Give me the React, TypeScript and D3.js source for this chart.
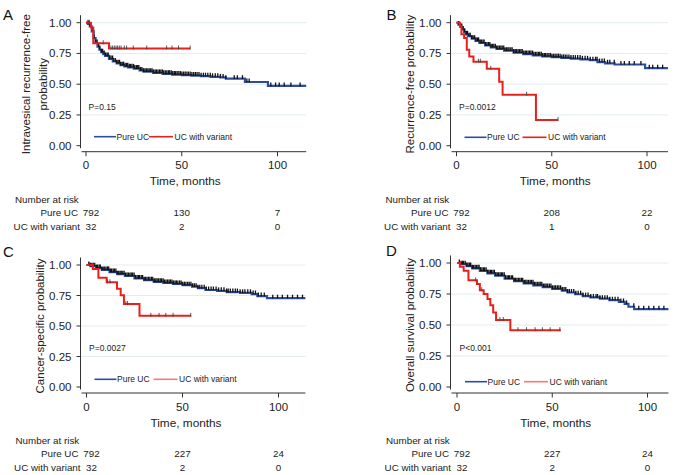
import React, { useEffect } from 'react';
import * as d3 from 'd3';

type Pt = [number, number];

// ---------- shared labels ----------
const timeTicks = [0, 50, 100];
const probTicks = [0, 0.25, 0.5, 0.75, 1];
const groupNames = ['Pure UC', 'UC with variant'];
const xTitle = 'Time, months';
const riskTitle = 'Number at risk';

// ---------- Panel A: intravesical recurrence-free ----------
const pureA: Pt[] = [[0,1],[1,0.99],[2,0.97],[3,0.93],[4,0.875],[5,0.835],[6,0.805],[7,0.78],[8,0.76],[9,0.745],[10,0.73],[12,0.705],[14,0.685],[16,0.67],[18,0.655],[20,0.645],[22,0.637],[25,0.627],[28,0.612],[30,0.602],[35,0.592],[40,0.584],[45,0.578],[50,0.574],[55,0.57],[60,0.565],[65,0.56],[70,0.555],[73,0.545],[83,0.518],[95,0.486]];
const pureEndA = 115;
const variantA: Pt[] = [[0,1],[2.6,0.96],[3.8,0.833],[12,0.79]];
const variantEndA = 54.5;
const variantCensorA = [1.0,1.8,9,13,13.9,14.8,15.7,16.5,17.4,18.3,20,21.2,24.7,31.7,42.1,44.9,48.3,54.4];
const pureTailCensorA = [77.4,79.0,81.7,84.0,85.2,96.5,99.0,100.9,103.5,107.0,111.8];
const riskPureA = [792, 130, 7];
const riskVariantA = [32, 2, 0];

// ---------- Panel B: recurrence-free ----------
const pureB: Pt[] = [[0,1],[1,0.985],[2,0.965],[3,0.945],[4,0.925],[5,0.905],[6,0.89],[8,0.87],[10,0.852],[12,0.835],[15,0.815],[18,0.8],[21,0.786],[25,0.772],[30,0.757],[35,0.745],[40,0.735],[45,0.726],[50,0.72],[55,0.714],[60,0.708],[65,0.702],[70,0.695],[74,0.68],[78,0.67],[83,0.66],[99,0.63]];
const pureEndB = 111;
const variantB: Pt[] = [[0,1],[1.8,0.969],[2.6,0.906],[4,0.875],[5.4,0.78],[6.7,0.725],[8.9,0.683],[15.9,0.625],[22.4,0.52],[24.2,0.415],[41.7,0.208]];
const variantEndB = 53.3;
const variantCensorB = [11.5,12.5,18,36.8,53.3];
const pureTailCensorB = [73.8,75.1,76.4,77.6,79.3,80.5,82.8,86.3,88.1,90.7,93.3,96.8,101.2,103.0,105.6,108.2];
const riskPureB = [792, 208, 22];
const riskVariantB = [32, 1, 0];

// ---------- Panel C: cancer-specific ----------
const pureC: Pt[] = [[0,1],[2,0.99],[5,0.975],[8,0.96],[12,0.942],[16,0.925],[20,0.91],[25,0.89],[30,0.875],[35,0.862],[40,0.853],[45,0.845],[50,0.835],[55,0.822],[58,0.81],[62,0.795],[68,0.788],[73,0.778],[80,0.772],[86,0.762],[89,0.745],[94,0.728]];
const pureEndC = 114;
const variantC: Pt[] = [[0,1],[3.3,0.967],[6.2,0.896],[10.5,0.858],[15.9,0.806],[17.8,0.752],[19.5,0.68],[27.6,0.583]];
const variantEndC = 54.5;
const variantCensorC = [1.5,10.9,12.2,20.5,21.4,33.5,37.8,41.3,45.1,54.3];
const pureTailCensorC = [73.8,74.9,76.2,77.5,78.6,80.0,81.3,82.5,84.0,85.4,86.8,88.0,89.5,91.0,92.6,97.0,99.5,102.0,104.7,107.3,109.9,112.5];
const riskPureC = [792, 227, 24];
const riskVariantC = [32, 2, 0];

// ---------- Panel D: overall survival ----------
const pureD: Pt[] = [[0,1],[2,0.99],[5,0.975],[8,0.957],[12,0.937],[16,0.917],[20,0.897],[25,0.873],[30,0.853],[35,0.836],[40,0.82],[45,0.806],[50,0.792],[55,0.778],[58,0.762],[62,0.748],[66,0.733],[70,0.722],[75,0.712],[80,0.7],[85,0.686],[88,0.67],[90,0.647],[93,0.628]];
const pureEndD = 111;
const variantD: Pt[] = [[0,1],[1.5,0.969],[3.5,0.938],[6,0.86],[10.5,0.83],[12,0.78],[14,0.75],[16,0.71],[17.5,0.66],[19,0.6],[20.5,0.54],[28,0.458]];
const variantEndD = 54.5;
const variantCensorD = [9.8,13,22.5,24.3,32,36.5,41,44.8,48.9,54];
const pureTailCensorD = [73.8,75.0,76.3,77.6,78.9,80.2,81.6,83.0,84.5,86.0,87.4,89.0,92.8,95.4,98.0,100.7,103.3,106.0,108.6];
const riskPureD = [792, 227, 24];
const riskVariantD = [32, 2, 0];

// dense censoring (months) of the Pure UC cohort in the first ~6 years
const pureBandCensor = [1.2,2.1,2.8,3.5,4.3,5.1,5.8,6.6,7.2,8.0,8.7,9.5,10.2,11.0,11.6,12.4,13.1,13.9,14.5,15.3,16.0,16.8,17.5,18.1,18.9,19.6,20.4,21.1,21.8,22.6,23.3,24.0,24.8,25.5,26.3,27.0,27.6,28.5,29.2,30.0,30.8,31.5,32.3,33.0,33.8,34.5,35.3,36.1,36.8,37.6,38.4,39.1,39.9,40.6,41.4,42.2,43.0,43.7,44.5,45.3,46.1,46.8,47.6,48.5,49.3,50.1,51.0,51.8,52.7,53.5,54.4,55.3,56.2,57.1,58.0,59.0,60.1,61.3,62.4,63.6,64.9,66.1,67.5,68.8,70.2,71.6,73.0];

const titles = {
  A: ['Intravesical recurrence-free', 'probability'],
  B: ['Recurrence-free probability'],
  C: ['Cancer-specific probability'],
  D: ['Overall survival probability'],
};
const pValues = { A: 'P=0.15', B: 'P=0.0012', C: 'P=0.0027', D: 'P<0.001' };

const panels = [
  { id: 'A', pure: pureA, pureEnd: pureEndA, variant: variantA, variantEnd: variantEndA, vCens: variantCensorA, pTail: pureTailCensorA, riskP: riskPureA, riskV: riskVariantA,
    axisX: 80.5, x0: 86, x100: 277.5, y1: 22.7, y0: 145.7, legDy: -9, redDx: 63, lightLegend: false, labX: 3, labY: 19.5 },
  { id: 'B', pure: pureB, pureEnd: pureEndB, variant: variantB, variantEnd: variantEndB, vCens: variantCensorB, pTail: pureTailCensorB, riskP: riskPureB, riskV: riskVariantB,
    axisX: 450.5, x0: 456.5, x100: 647, y1: 22.7, y0: 145.7, legDy: -8.4, redDx: 66, lightLegend: false, labX: 386.5, labY: 20 },
  { id: 'C', pure: pureC, pureEnd: pureEndC, variant: variantC, variantEnd: variantEndC, vCens: variantCensorC, pTail: pureTailCensorC, riskP: riskPureC, riskV: riskVariantC,
    axisX: 80.5, x0: 86.5, x100: 278.5, y1: 265, y0: 387, legDy: -7.7, redDx: 67, lightLegend: true, labX: 3, labY: 256.5 },
  { id: 'D', pure: pureD, pureEnd: pureEndD, variant: variantD, variantEnd: variantEndD, vCens: variantCensorD, pTail: pureTailCensorD, riskP: riskPureD, riskV: riskVariantD,
    axisX: 450.5, x0: 457, x100: 647.5, y1: 263, y0: 387, legDy: -5.3, redDx: 67, lightLegend: true, labX: 386, labY: 256 },
];

const FONT = "'Liberation Sans', Arial, Helvetica, sans-serif";
const BLUE = '#2c4c9e';
const RED = '#e8201c';
const RED_LIGHT = '#f27a78';
const GRID = '#e2ecef';
const TXT = '#222';

const valueAt = (curve: Pt[], t: number) => {
  let v = curve[0][1];
  for (const [tt, s] of curve) {
    if (tt <= t) v = s; else break;
  }
  return v;
};

function Panel({ p }: { p: typeof panels[number] }) {
  const x = d3.scaleLinear().domain([0, 100]).range([p.x0, p.x100]);
  const y = d3.scaleLinear().domain([0, 1]).range([p.y0, p.y1]);
  const line = d3.line<Pt>().x(d => x(d[0])).y(d => y(d[1])).curve(d3.curveStepAfter);
  const pureFull: Pt[] = [...p.pure, [p.pureEnd, p.pure[p.pure.length - 1][1]]];
  const varFull: Pt[] = [...p.variant, [p.variantEnd, p.variant[p.variant.length - 1][1]]];
  const right = x(p.pureEnd);
  const pureCens = [...pureBandCensor, ...p.pTail];
  const t = titles[p.id as keyof typeof titles];
  const titleY = (p.y0 + p.y1) / 2;
  const legY = p.y0 + p.legDy;
  const colX = (i: number) => x(timeTicks[i]) + (i === 0 ? 5 : 0);
  return (
    <g>
      <text x={p.labX} y={p.labY} fontSize={15} fill="#111" fontFamily={FONT}>{p.id}</text>
      {/* grid */}
      {probTicks.filter(v => v > 0).map(v => (
        <line key={'g' + v} x1={p.axisX} x2={right} y1={y(v)} y2={y(v)} stroke={GRID} strokeWidth={1} />
      ))}
      {/* y axis */}
      <line x1={p.axisX} x2={p.axisX} y1={p.y1 - 7.5} y2={p.y0 + 2.5} stroke="#333" strokeWidth={1} />
      {probTicks.map(v => (
        <g key={'yt' + v}>
          <line x1={p.axisX - 4} x2={p.axisX} y1={y(v)} y2={y(v)} stroke="#333" strokeWidth={1} />
          <text x={p.axisX - 9} y={y(v) + 4} textAnchor="end" fontSize={11.5} fill={TXT} fontFamily={FONT}>{d3.format('.2f')(v)}</text>
        </g>
      ))}
      {/* y title */}
      {t.map((s, i) => {
        const cx = t.length === 2 ? (i === 0 ? p.axisX - 55 : p.axisX - 37.5) : p.axisX - 40.5;
        return (
          <text key={'yl' + i} transform={`translate(${cx},${titleY}) rotate(-90)`} textAnchor="middle" dominantBaseline="central"
            fontSize={11.5} fill={TXT} fontFamily={FONT}>{s}</text>
        );
      })}
      {/* x axis */}
      <line x1={p.axisX + 1} x2={right} y1={p.y0 + 6} y2={p.y0 + 6} stroke="#333" strokeWidth={1} />
      {timeTicks.map(v => (
        <g key={'xt' + v}>
          <line x1={x(v)} x2={x(v)} y1={p.y0 + 6} y2={p.y0 + 10.5} stroke="#333" strokeWidth={1} />
          <text x={x(v)} y={p.y0 + 23.5} textAnchor="middle" fontSize={11.5} fill={TXT} fontFamily={FONT}>{v}</text>
        </g>
      ))}
      <text x={x(50) + 3.5} y={p.y0 + 39.5} textAnchor="middle" fontSize={11.8} fill={TXT} fontFamily={FONT}>{xTitle}</text>
      {/* curves */}
      <path d={line(pureFull) || ''} fill="none" stroke={BLUE} strokeWidth={2.2} />
      {pureCens.map((c, i) => {
        const yy = y(valueAt(p.pure, c));
        return <line key={'pc' + i} x1={x(c)} x2={x(c)} y1={yy - 3.5} y2={yy + 0.3} stroke="#111" strokeWidth={1.3} />;
      })}
      <path d={line(varFull) || ''} fill="none" stroke={RED} strokeWidth={2} />
      {p.vCens.map((c, i) => {
        const yy = y(valueAt(p.variant, c));
        return <line key={'vc' + i} x1={x(c)} x2={x(c)} y1={yy - 3} y2={yy + 1} stroke="#444" strokeWidth={0.9} />;
      })}
      {/* p-value */}
      <text x={p.x0 + 2.5} y={p.y0 - 36} fontSize={8.5} fill={TXT} fontFamily={FONT}>{pValues[p.id as keyof typeof pValues]}</text>
      {/* legend */}
      <line x1={p.x0 + 8} x2={p.x0 + 30} y1={legY} y2={legY} stroke={BLUE} strokeWidth={1.6} />
      <text x={p.x0 + 30.5} y={legY + 3} fontSize={8.5} fill={TXT} fontFamily={FONT}>{groupNames[0]}</text>
      <line x1={p.x0 + p.redDx} x2={p.x0 + p.redDx + 24} y1={legY} y2={legY} stroke={p.lightLegend ? RED_LIGHT : RED} strokeWidth={1.6} />
      <text x={p.x0 + p.redDx + 25.5} y={legY + 3} fontSize={8.5} fill={TXT} fontFamily={FONT}>{groupNames[1]}</text>
      {/* number at risk */}
      <text x={p.x0 - 71} y={p.y0 + 57} fontSize={9.8} fill={TXT} fontFamily={FONT}>{riskTitle}</text>
      <text x={p.x0 - 8} y={p.y0 + 70} textAnchor="end" fontSize={9.8} fill={TXT} fontFamily={FONT}>{groupNames[0]}</text>
      <text x={p.x0 - 6} y={p.y0 + 84} textAnchor="end" fontSize={9.8} fill={TXT} fontFamily={FONT}>{groupNames[1]}</text>
      {p.riskP.map((n, i) => (
        <text key={'rp' + i} x={colX(i)} y={p.y0 + 70} textAnchor="middle" fontSize={9.8} fill={TXT} fontFamily={FONT}>{n}</text>
      ))}
      {p.riskV.map((n, i) => (
        <text key={'rv' + i} x={colX(i)} y={p.y0 + 84} textAnchor="middle" fontSize={9.8} fill={TXT} fontFamily={FONT}>{n}</text>
      ))}
    </g>
  );
}

export default function App() {
  useEffect(() => {
    document.body.style.margin = '0';
  }, []);
  return (
    <svg width={678} height={475} viewBox="0 0 678 475" style={{ position: 'absolute', left: 0, top: 0, background: '#fff' }}>
      <rect width={678} height={475} fill="#fff" />
      {panels.map(p => <Panel key={p.id} p={p} />)}
    </svg>
  );
}
